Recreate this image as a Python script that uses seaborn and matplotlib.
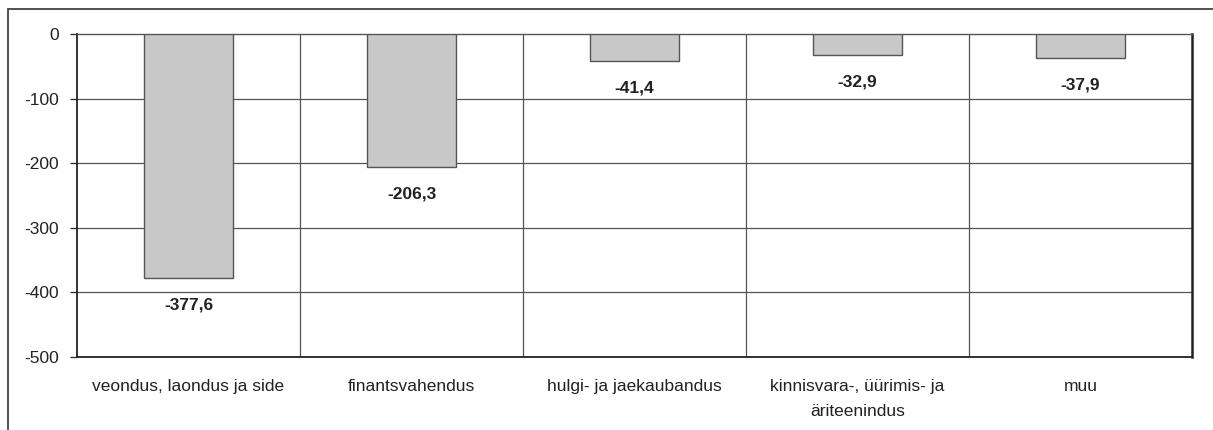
import numpy as np
import pandas as pd
import matplotlib
matplotlib.use("Agg")
import matplotlib.pyplot as plt
import seaborn as sns
from matplotlib.patches import Rectangle

categories = [
    "veondus, laondus ja side",
    "finantsvahendus",
    "hulgi- ja jaekaubandus",
    "kinnisvara-, üürimis- ja\näriteenindus",
    "muu",
]
values = [-377.6, -206.3, -41.4, -32.9, -37.9]
yticks = [0, -100, -200, -300, -400, -500]

sns.set_style("white")
plt.rcParams["font.family"] = ["Liberation Sans", "DejaVu Sans"]

df = pd.DataFrame({"cat": categories, "val": values})

fig = plt.figure(figsize=(12.13, 4.30), dpi=100)
ax = fig.add_axes([77 / 1213, 1 - 357 / 430, (1192 - 77) / 1213, (357 - 34) / 430])

sns.barplot(data=df, x="cat", y="val", color="#c8c8c8", width=0.4,
            edgecolor="#555555", linewidth=1.0, saturation=1, ax=ax, zorder=3)

ax.set_ylim(-500, 0)
ax.set_xlim(-0.5, len(categories) - 0.5)
ax.set_yticks(yticks)
ax.set_yticklabels([str(t) for t in yticks], fontsize=12.5, color="#222222")
ax.set_xticks(range(len(categories)))
ax.set_xticklabels(categories, fontsize=12.5, color="#222222", linespacing=1.8)
ax.tick_params(axis="x", length=0, pad=16)
ax.tick_params(axis="y", length=5, width=1, color="#333333", left=True, direction="out", pad=8)
ax.set_xlabel("")
ax.set_ylabel("")

# gridlines
for t in yticks[1:-1]:
    ax.axhline(t, color="#555555", linewidth=0.9, zorder=1)
for b in np.arange(0.5, len(categories) - 0.5, 1):
    ax.axvline(b, color="#555555", linewidth=0.9, zorder=1)

for s in ["left", "bottom", "right", "top"]:
    ax.spines[s].set_visible(True)
    ax.spines[s].set_color("#222222")
ax.spines["left"].set_linewidth(1.3)
ax.spines["bottom"].set_linewidth(1.3)
ax.spines["right"].set_linewidth(1.8)
ax.spines["top"].set_linewidth(1.0)
ax.spines["top"].set_color("#555555")

for i, v in enumerate(values):
    ax.annotate(f"{v:.1f}".replace(".", ","), xy=(i, v), xytext=(0, -14),
                textcoords="offset points", ha="center", va="top",
                fontsize=12.5, fontweight="bold", color="#222222")

# outer frame
fig.patches.append(Rectangle((8 / 1213, -0.1), 1.2, 1 - 9 / 430 + 0.1,
                             transform=fig.transFigure, fill=False,
                             edgecolor="#333333", linewidth=1.2))

fig.savefig("out.png", dpi=100)
